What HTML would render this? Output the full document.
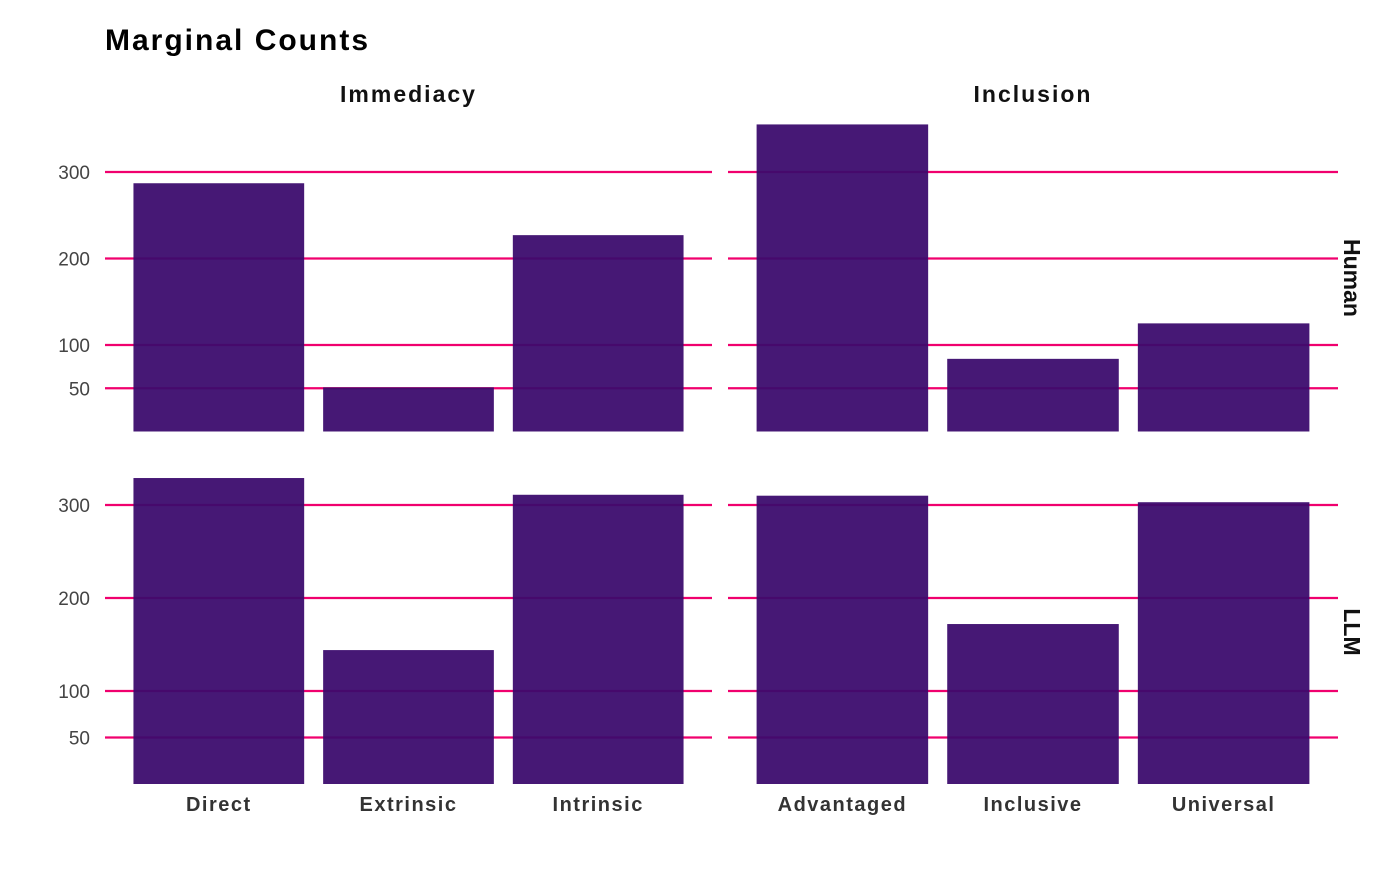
<!DOCTYPE html>
<html><head><meta charset="utf-8"><style>
body{margin:0;background:#fff;}
svg{font-family:"Liberation Sans",sans-serif;}
</style></head><body>
<svg id="chart" width="1400" height="865" viewBox="0 0 1400 865">
<text x="105" y="50" font-size="30" font-weight="bold" fill="#000" letter-spacing="2">Marginal Counts</text>
</svg>
<script>
const facetCols = ["Immediacy", "Inclusion"];
const facetRows = ["Human", "LLM"];
const catsImmediacy = ["Direct", "Extrinsic", "Intrinsic"];
const catsInclusion = ["Advantaged", "Inclusive", "Universal"];
const humanImmediacy = [287, 51, 227];
const humanInclusion = [355, 84, 125];
const llmImmediacy = [329, 144, 311];
const llmInclusion = [310, 172, 303];
const yTicks = [50, 100, 200, 300];

const svg = document.getElementById('chart');
const NS = 'http://www.w3.org/2000/svg';
function mk(tag, attrs, parent){const e=document.createElementNS(NS,tag);for(const k in attrs)e.setAttribute(k,attrs[k]);(parent||svg).appendChild(e);return e;}

const colX = [[105,712],[728,1338]];
const rowY = [{zero:431.5, px:0.865},{zero:784, px:0.93}];
const cats = [catsImmediacy, catsInclusion];
const vals = [[humanImmediacy, humanInclusion],[llmImmediacy, llmInclusion]];

function xScale(c, i){const [a,b]=colX[c];const step=(b-a)/3.2;return a+step*(0.6+i);}
function yScale(r, v){return rowY[r].zero - v*rowY[r].px;}

facetCols.forEach((n,c)=>{
  const t=mk('text',{x:(colX[c][0]+colX[c][1])/2,y:102,'font-size':23,'font-weight':'bold','text-anchor':'middle',fill:'#111','letter-spacing':2});
  t.textContent=n;
  
  
});
facetRows.forEach((n,r)=>{
  const cy = r===0 ? 278 : 632;
  const t=mk('text',{x:1344,y:cy,'font-size':23,'font-weight':'bold','text-anchor':'middle',fill:'#111',transform:'rotate(90 1344 '+cy+')'});
  t.textContent=n;
  
  
});

for(let r=0;r<2;r++){
  yTicks.forEach(v=>{
    const t=mk('text',{x:90,y:yScale(r,v)+7,'font-size':19,'text-anchor':'end',fill:'#444'});
    t.textContent=v;
    
    
  });
  for(let c=0;c<2;c++){
    yTicks.forEach(v=>{
      const l=mk('line',{x1:colX[c][0],x2:colX[c][1],y1:yScale(r,v),y2:yScale(r,v),stroke:'#f0006e','stroke-width':2.2});
      
      
    });
    const step=(colX[c][1]-colX[c][0])/3.2, bw=step*0.9;
    vals[r][c].forEach((v,i)=>{
      const x=xScale(c,i);
      const b=mk('rect',{x:x-bw/2,y:yScale(r,v),width:bw,height:v*rowY[r].px,fill:'#3a0a6c','fill-opacity':0.94});
      
      
    });
  }
}
for(let c=0;c<2;c++){
  cats[c].forEach((n,i)=>{
    const t=mk('text',{x:xScale(c,i),y:811,'font-size':20,'font-weight':'bold','text-anchor':'middle',fill:'#333','letter-spacing':1.5});
    t.textContent=n;
    
    
  });
}
</script>
</body></html>
